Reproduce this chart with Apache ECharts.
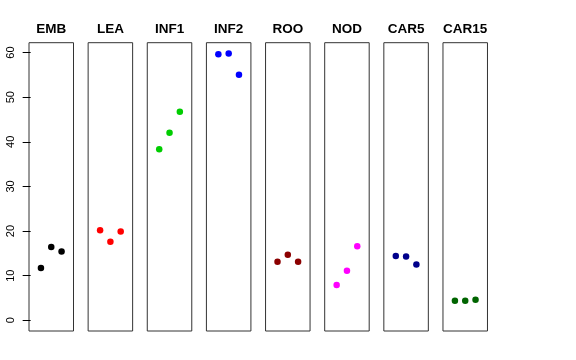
<!DOCTYPE html>
<html>
<head>
<meta charset="utf-8">
<script src="https://cdn.jsdelivr.net/npm/echarts@6/dist/echarts.min.js"></script>
<style>html,body{margin:0;padding:0;background:#fff}#c{width:576px;height:360px}</style>
</head>
<body>
<div id="c"></div>
<script>
const categories = ["EMB", "LEA", "INF1", "INF2", "ROO", "NOD", "CAR5", "CAR15"];
const EMB = [11.7, 16.4, 15.4];
const LEA = [20.2, 17.6, 19.9];
const INF1 = [38.3, 42.0, 46.7];
const INF2 = [59.6, 59.8, 55.0];
const ROO = [13.1, 14.7, 13.1];
const NOD = [7.9, 11.1, 16.6];
const CAR5 = [14.4, 14.3, 12.5];
const CAR15 = [4.4, 4.4, 4.6];
const seriesValues = [EMB, LEA, INF1, INF2, ROO, NOD, CAR5, CAR15];
const colors = ["#000000", "#FF0000", "#00CD00", "#0000FF", "#8B0000", "#FF00FF", "#00008B", "#006400"];
const yTicks = [0, 10, 20, 30, 40, 50, 60];

const panelLeft0 = 29, panelStep = 59.14, panelW = 44.5, panelTop = 42.7, panelH = 288.3;

const grid = [], xAxis = [], yAxis = [], series = [], title = [];
categories.forEach((name, i) => {
  const left = panelLeft0 + i * panelStep;
  grid.push({left: left, top: panelTop, width: panelW, height: panelH, show: true,
    borderColor: '#333', borderWidth: 1, backgroundColor: 'transparent', containLabel: false});
  xAxis.push({type: 'value', gridIndex: i, min: -0.16, max: 4.16, show: false});
  yAxis.push({
    type: 'value', gridIndex: i, min: -2.4, max: 62.2, show: i === 0,
    splitLine: {show: false}, axisLine: {show: false},
    axisTick: {show: true, length: 8, customValues: yTicks, lineStyle: {color: '#000'}},
    axisLabel: {show: true, customValues: yTicks, rotate: 90, margin: 12.5,
      fontFamily: 'Liberation Sans, Arial, sans-serif', fontSize: 11, color: '#000'}
  });
  series.push({
    type: 'scatter', xAxisIndex: i, yAxisIndex: i, symbol: 'circle', symbolSize: 6.5,
    itemStyle: {color: colors[i], opacity: 1},
    data: seriesValues[i].map((v, j) => [j + 1, v]),
    silent: true, animation: false
  });
  title.push({text: name, left: left + panelW / 2, top: 22, padding: 0, textAlign: 'center',
    textStyle: {fontFamily: 'Liberation Sans, Arial, sans-serif', fontWeight: 'bold', fontSize: 13.5, color: '#000'}});
});

const chart = echarts.init(document.getElementById('c'), null, {renderer: 'canvas'});
chart.setOption({backgroundColor: '#fff', animation: false, title, grid, xAxis, yAxis, series});
</script>
</body>
</html>
